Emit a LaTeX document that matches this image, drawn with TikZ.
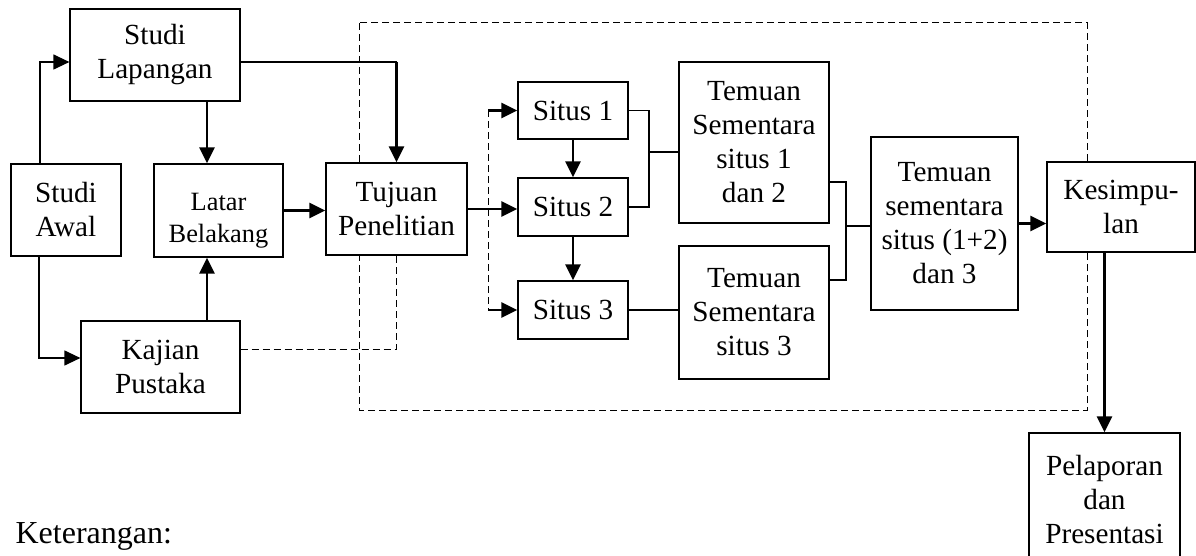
\documentclass[tikz,border=0pt]{standalone}
\usepackage{fontspec}
\setmainfont{Liberation Serif}
\usetikzlibrary{
    arrows.meta,
    calc,
    positioning
}
\tikzset{
    every picture/.style = {
        > = {Triangle[length=8pt, width=7.5pt]},
        line width = 0.6pt
    },
    box/.style 2 args = {
        draw,
        fill = white,
        align = center,
        inner sep = 1pt,
        minimum width = #1,
        minimum height = #2
    },
    flow/.style = {->, line width = 1.4pt},
    feed/.style = {->},
    link/.style = {line width = 0.6pt},
    frame/.style = {line width = 0.5pt, dash pattern = on 3.5pt off 2pt}
}

\begin{document}
\begin{tikzpicture}[x = 0.5pt, y = -0.5pt, node font = {\fontsize{14.6}{17}\selectfont}]
    \useasboundingbox (0,0) rectangle (1196,556);
    % area lapangan (situs)
    \draw[frame] (359,23) rectangle (1087,410);

    \node[box={85pt}{46pt}] (lapangan) at (155,55) {Studi\\Lapangan};
    \node[box={55pt}{46pt}] (awal) at (66,210) {Studi\\Awal};
    \node[box={64.5pt}{46.5pt}, node font={\fontsize{13.2}{16}\selectfont}] (latar) at (218.5,210.5) {\rule{0pt}{19pt}Latar\\Belakang};
    \node[box={70.5pt}{46pt}] (tujuan) at (396.5,209) {Tujuan\\Penelitian};
    \node[box={79.5pt}{46pt}] (kajian) at (160.5,367) {Kajian\\Pustaka};

    \node[box={55pt}{28.5pt}] (situs1) at (573,110.5) {Situs 1};
    \node[box={55pt}{29pt}] (situs2) at (573,207) {Situs 2};
    \node[box={55pt}{29pt}] (situs3) at (573,310) {Situs 3};
    \node[box={75pt}{80.5pt}] (temuan12) at (754,142.5) {Temuan\\Sementara\\situs 1\\dan 2};
    \node[box={75pt}{66.5pt}] (temuan3) at (754,312.5) {Temuan\\Sementara\\situs 3};
    \node[box={73.5pt}{86.5pt}] (temuan123) at (944.5,223.5) {Temuan\\sementara\\situs (1+2)\\dan 3};
    \node[box={74pt}{45pt}] (simpul) at (1121,207) {Kesimpu-\\lan};
    \node[box={75.5pt}{67pt}] (lapor) at (1104.5,500) {Pelaporan\\dan\\Presentasi};
    \node[anchor=base west, inner sep=0pt, node font={\fontsize{16}{19}\selectfont}] (ket) at (15,543) {Keterangan:};

    % alur awal
    \draw[feed] ([xshift=-13pt]awal.north) |- ([yshift=-3.5pt]lapangan.west);
    \draw[feed] ([xshift=-13.5pt]awal.south) |- ([yshift=4.5pt]kajian.west);
    \draw[flow] ([xshift=-5.75pt]latar.north |- lapangan.south) -- ([xshift=-5.75pt]latar.north);
    \draw[flow] ([xshift=-5.75pt]latar.south |- kajian.north) -- ([xshift=-5.75pt]latar.south);
    \draw[link] ([yshift=-3.5pt]lapangan.east) -- ([yshift=-3.5pt]lapangan.east -| tujuan.north);
    \draw[flow] ([yshift=-3.5pt]lapangan.east -| tujuan.north) -- (tujuan.north);
    \draw[flow] (latar.east) -- (latar.east -| tujuan.west);
    \draw[frame] ([yshift=9pt]kajian.east) -| (tujuan.south);

    % situs
    \draw[flow] (tujuan.east) -- (tujuan.east -| situs2.west);
    \draw[frame] ([xshift=-14.5pt]situs1.west) -- ([xshift=-14.5pt]situs3.west);
    \draw[flow] ([xshift=-14.5pt]situs1.west) -- (situs1.west);
    \draw[flow] ([xshift=-14.5pt]situs3.west) -- (situs3.west);
    \draw[flow] (situs1.south) -- (situs2.north);
    \draw[flow] (situs2.south) -- (situs3.north);

    % temuan
    \coordinate (gabung12) at (649,152);
    \draw[link] (situs1.east) -| (gabung12) |- (situs2.east);
    \draw[link] (gabung12) -- (gabung12 -| temuan12.west);
    \draw[link] (situs3.east) -- (situs3.east -| temuan3.west);
    \coordinate (gabung123) at (846,226);
    \draw[link] ([yshift=-19.75pt]temuan12.east) -| (gabung123) |- ([yshift=16.25pt]temuan3.east);
    \draw[link] (gabung123) -- (gabung123 -| temuan123.west);

    % akhir
    \draw[flow] (temuan123.east) -- (temuan123.east -| simpul.west);
    \draw[flow] (simpul.south -| lapor.north) -- (lapor.north);
\end{tikzpicture}
\end{document}
